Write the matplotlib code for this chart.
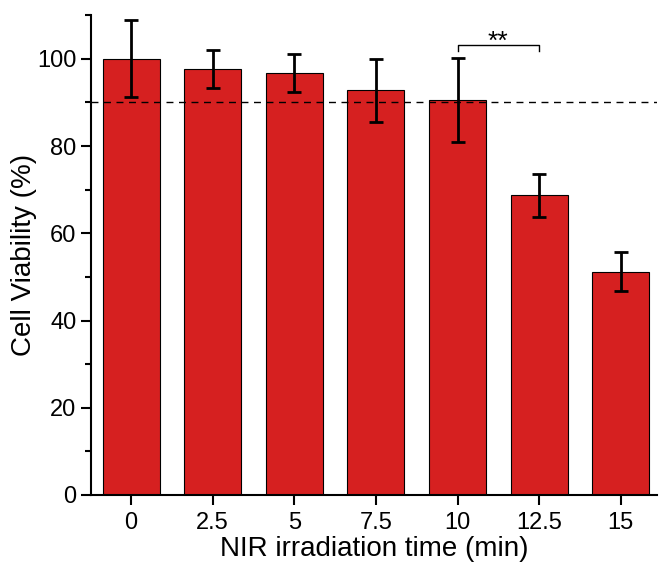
import numpy as np
import matplotlib
matplotlib.use('Agg')
import matplotlib.pyplot as plt
from matplotlib.ticker import MultipleLocator

plt.rcParams['font.family'] = ['Liberation Sans', 'DejaVu Sans']

# data
times = ['0', '2.5', '5', '7.5', '10', '12.5', '15']
viability = [100.0, 97.7, 96.8, 92.8, 90.6, 68.7, 51.2]
errors = [8.8, 4.4, 4.4, 7.2, 9.7, 5.0, 4.5]
threshold = 90

fig = plt.figure(figsize=(6.6, 5.65), dpi=100)
ax = fig.add_axes([0.138, 0.124, 0.857, 0.849])

x = np.arange(len(times))
ax.bar(x, viability, width=0.7, color='#D62020', edgecolor='black', linewidth=0.8, zorder=2)
ax.errorbar(x, viability, yerr=errors, fmt='none', ecolor='black',
            elinewidth=2, capsize=5, capthick=2, zorder=3)

ax.axhline(threshold, color='black', linestyle=(0, (5, 4)), linewidth=1, zorder=4)

# significance bracket between 10 and 12.5 min
ax.plot([4, 4, 5, 5], [101.8, 103.1, 103.1, 101.8], color='black', linewidth=1)
ax.text(4.5, 102.4, '**', ha='center', va='baseline', fontsize=19)

ax.set_xlim(-0.49, 6.44)
ax.set_ylim(0, 110)
ax.set_xticks(x)
ax.set_xticklabels(times)
ax.yaxis.set_major_locator(MultipleLocator(20))
ax.yaxis.set_minor_locator(MultipleLocator(10))
ax.tick_params(axis='both', which='major', labelsize=17, length=7, width=1.5, direction='out')
ax.tick_params(axis='x', which='major', pad=5)
ax.tick_params(axis='y', which='minor', length=4, width=1.5, direction='out')

for s in ['top', 'right']:
    ax.spines[s].set_visible(False)
for s in ['left', 'bottom']:
    ax.spines[s].set_linewidth(1.5)

ax.set_xlabel('NIR irradiation time (min)', fontsize=20, labelpad=2)
ax.set_ylabel('Cell Viability (%)', fontsize=20, labelpad=0)

fig.savefig('out.png', dpi=100)
